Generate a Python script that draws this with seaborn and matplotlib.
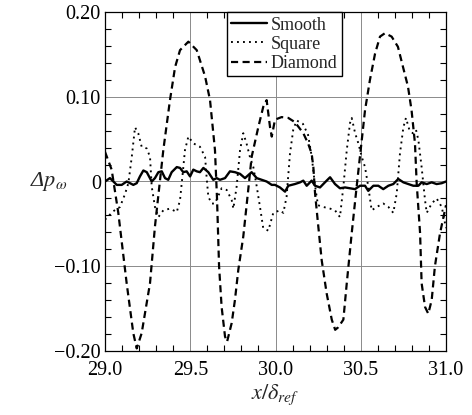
import numpy as np
import pandas as pd
import matplotlib
matplotlib.use("Agg")
import matplotlib.pyplot as plt
import seaborn as sns
from matplotlib.ticker import MultipleLocator

# ---------------- data ----------------
smooth_x = [29.000, 29.029, 29.049, 29.069, 29.098, 29.127, 29.147, 29.166, 29.186, 29.205,
            29.225, 29.245, 29.274, 29.293, 29.313, 29.333, 29.352, 29.371, 29.391, 29.421,
            29.440, 29.459, 29.479, 29.499, 29.518, 29.538, 29.557, 29.577, 29.606, 29.635,
            29.655, 29.674, 29.704, 29.733, 29.762, 29.792, 29.821, 29.860, 29.890, 29.919,
            29.948, 29.978, 29.997, 30.026, 30.056, 30.075, 30.114, 30.144, 30.163, 30.183,
            30.212, 30.232, 30.261, 30.290, 30.320, 30.349, 30.378, 30.408, 30.437, 30.466,
            30.496, 30.525, 30.544, 30.574, 30.603, 30.632, 30.662, 30.691, 30.720, 30.750,
            30.779, 30.808, 30.838, 30.857, 30.887, 30.916, 30.945, 30.975, 31.000]
smooth_y = [0.000, 0.004, 0.000, -0.004, -0.004, 0.000, -0.002, -0.004, -0.002, 0.006,
            0.013, 0.011, 0.000, 0.004, 0.011, 0.012, 0.004, 0.002, 0.011, 0.017,
            0.016, 0.011, 0.012, 0.006, 0.014, 0.012, 0.011, 0.016, 0.011, 0.002,
            0.004, 0.002, 0.004, 0.012, 0.011, 0.009, 0.004, 0.011, 0.004, 0.002,
            0.000, -0.004, -0.004, -0.007, -0.012, -0.005, -0.003, -0.001, 0.001, -0.005,
            0.001, -0.005, -0.007, -0.001, 0.005, -0.003, -0.008, -0.007, -0.008, -0.009,
            -0.005, -0.005, -0.011, -0.005, -0.005, -0.009, -0.005, -0.003, 0.003, -0.001,
            -0.003, -0.005, -0.005, -0.001, -0.003, -0.001, -0.003, -0.002, 0.000]

square_x = [29.000, 29.049, 29.088, 29.117, 29.137, 29.157, 29.176, 29.195, 29.215, 29.245,
            29.264, 29.274, 29.293, 29.313, 29.342, 29.381, 29.421, 29.440, 29.456, 29.469,
            29.489, 29.518, 29.557, 29.587, 29.596, 29.606, 29.626, 29.645, 29.684, 29.714,
            29.743, 29.753, 29.772, 29.792, 29.811, 29.830, 29.850, 29.870, 29.890, 29.909,
            29.928, 29.958, 29.987, 30.026, 30.046, 30.065, 30.085, 30.104, 30.124, 30.161,
            30.191, 30.212, 30.232, 30.249, 30.279, 30.320, 30.349, 30.378, 30.398, 30.418,
            30.437, 30.447, 30.467, 30.486, 30.506, 30.525, 30.544, 30.564, 30.594, 30.632,
            30.662, 30.691, 30.711, 30.730, 30.750, 30.765, 30.785, 30.805, 30.824, 30.838,
            30.857, 30.877, 30.887, 30.916, 30.945, 30.975, 31.000]
square_y = [-0.045, -0.035, -0.030, -0.015, -0.002, 0.029, 0.064, 0.057, 0.041, 0.039,
            0.029, -0.006, -0.030, -0.042, -0.034, -0.032, -0.036, -0.022, 0.010, 0.037,
            0.053, 0.045, 0.041, 0.029, 0.005, -0.018, -0.026, -0.026, -0.008, -0.010,
            -0.022, -0.032, -0.006, 0.037, 0.057, 0.045, 0.029, 0.017, -0.006, -0.030,
            -0.055, -0.058, -0.037, -0.034, -0.037, -0.018, 0.033, 0.061, 0.072, 0.068,
            0.055, 0.030, -0.005, -0.028, -0.030, -0.032, -0.034, -0.042, -0.006, 0.037,
            0.069, 0.075, 0.057, 0.045, 0.029, 0.017, -0.006, -0.034, -0.030, -0.026,
            -0.030, -0.037, -0.014, 0.033, 0.064, 0.075, 0.061, 0.057, 0.061, 0.049,
            0.017, -0.022, -0.037, -0.026, -0.020, -0.030, -0.055]

diamond_x = [29.000, 29.039, 29.078, 29.127, 29.166, 29.186, 29.215, 29.264, 29.293, 29.342,
             29.381, 29.411, 29.440, 29.489, 29.538, 29.587, 29.616, 29.645, 29.657, 29.669,
             29.684, 29.704, 29.716, 29.743, 29.762, 29.782, 29.811, 29.840, 29.860, 29.899,
             29.928, 29.948, 29.968, 29.978, 29.997, 30.036, 30.075, 30.114, 30.163, 30.191,
             30.212, 30.222, 30.232, 30.251, 30.271, 30.300, 30.330, 30.350, 30.368, 30.398,
             30.418, 30.447, 30.476, 30.506, 30.525, 30.554, 30.584, 30.613, 30.642, 30.681,
             30.718, 30.748, 30.777, 30.798, 30.818, 30.828, 30.848, 30.857, 30.877, 30.896,
             30.916, 30.935, 30.965, 31.000]
diamond_y = [0.035, 0.014, -0.037, -0.120, -0.179, -0.197, -0.179, -0.120, -0.053, 0.037,
             0.096, 0.135, 0.155, 0.165, 0.155, 0.124, 0.096, 0.037, -0.020, -0.100,
             -0.148, -0.183, -0.189, -0.167, -0.140, -0.104, -0.065, -0.010, 0.029, 0.064,
             0.088, 0.096, 0.064, 0.053, 0.073, 0.076, 0.075, 0.070, 0.057, 0.045,
             0.033, 0.017, -0.014, -0.053, -0.093, -0.132, -0.163, -0.175, -0.172, -0.163,
             -0.120, -0.061, -0.006, 0.049, 0.084, 0.120, 0.151, 0.171, 0.175, 0.171,
             0.159, 0.135, 0.112, 0.084, 0.045, -0.002, -0.061, -0.120, -0.148, -0.156,
             -0.140, -0.100, -0.061, -0.028]

series_names = ["Smooth", "Square", "Diamond"]
x_ticks = [29.0, 29.5, 30.0, 30.5, 31.0]
x_tick_labels = ["29.0", "29.5", "30.0", "30.5", "31.0"]
y_ticks = [-0.20, -0.10, 0.0, 0.10, 0.20]
y_tick_labels = ["\u22120.20", "\u22120.10", "0", "0.10", "0.20"]

# ---------------- plotting ----------------
sns.set_style("ticks")
plt.rcParams["font.family"] = ["Liberation Serif", "DejaVu Serif"]
plt.rcParams["mathtext.fontset"] = "stix"

fig = plt.figure(figsize=(4.72, 4.15), dpi=100)
ax = fig.add_axes([105 / 472, 1 - 351 / 415, 341 / 472, 339 / 415])

styles = {
    "Smooth": dict(linestyle="-", linewidth=1.7),
    "Square": dict(linestyle=(0, (1.0, 2.2)), linewidth=1.35),
    "Diamond": dict(linestyle=(0, (3.2, 2.0)), linewidth=1.6),
}
data = {
    "Smooth": (smooth_x, smooth_y),
    "Square": (square_x, square_y),
    "Diamond": (diamond_x, diamond_y),
}
for name in series_names:
    xs, ys = data[name]
    df = pd.DataFrame({"x": xs, "y": ys})
    sns.lineplot(data=df, x="x", y="y", ax=ax, color="black", label=name,
                 sort=False, estimator=None, **styles[name])

ax.set_xlim(29.0, 31.0)
ax.set_ylim(-0.20, 0.20)
ax.set_xticks(x_ticks)
ax.set_xticklabels(x_tick_labels)
ax.set_yticks(y_ticks)
ax.set_yticklabels(y_tick_labels)
ax.xaxis.set_minor_locator(MultipleLocator(0.1))
ax.yaxis.set_minor_locator(MultipleLocator(0.02))
ax.tick_params(which="both", direction="in", top=True, right=True, labelsize=14.5,
               colors="black", width=0.8)
ax.tick_params(which="major", length=0)
ax.tick_params(axis="y", which="major", pad=3)
ax.tick_params(axis="x", which="major", pad=7)
ax.tick_params(which="minor", length=4)
ax.grid(True, which="major", color="#8a8a8a", linewidth=0.7)
for sp in ax.spines.values():
    sp.set_linewidth(0.9)
    sp.set_color("black")

ax.set_xlabel(r"$x/\delta_{ref}$", fontsize=16, labelpad=2)
ax.set_ylabel("\u0394$p_{\\omega}$", fontsize=16, rotation=0, va="center",
              fontstyle="italic")
ax.yaxis.set_label_coords(-0.165, 0.5)

leg = ax.legend(loc="upper left", bbox_to_anchor=(0.357, 1.0), borderaxespad=0,
                frameon=True, fancybox=False, framealpha=1, edgecolor="black",
                fontsize=13, handlelength=2.0, handletextpad=0.2,
                labelspacing=0.12, borderpad=0.25)
leg.get_frame().set_linewidth(1.0)

fig.savefig("out.png", dpi=100)
